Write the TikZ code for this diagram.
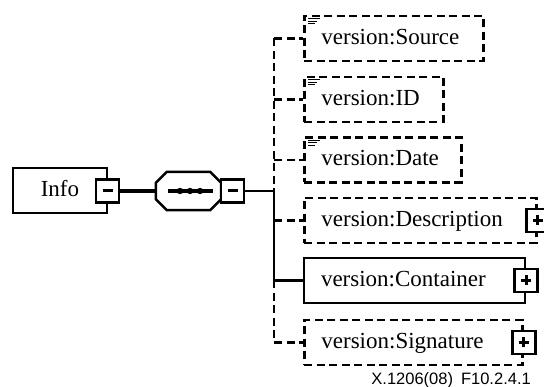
\documentclass[tikz,border=0pt]{standalone}
\usepackage{fontspec}
\setmainfont{Liberation Serif}
\newfontfamily\capfont{Liberation Sans}
\begin{document}
\begin{tikzpicture}[x=1pt,y=-1pt,
  boxfont/.style={font=\fontsize{23}{27}\selectfont},
  elem/.style={draw, boxfont, line width=2pt, minimum height=45pt,
    inner xsep=17pt, inner ysep=0pt, text height=17pt, text depth=5pt,
    align=left, anchor=west},
  optelem/.style={elem, line width=2.8pt, dash pattern=on 8pt off 4.5pt},
  toggle/.style={draw, fill=white, line width=2.6pt, minimum width=23pt,
    minimum height=23pt, inner sep=0pt},
  conn/.style={line width=2.5pt},
  optconn/.style={conn, line width=2.7pt, dash pattern=on 8pt off 4.5pt},
  sign/.style={line width=3pt},
  doc/.style={line width=1pt},
]
\useasboundingbox (0,0) rectangle (544,387);

% root element
\node[elem, text width=60pt, align=center, anchor=center] (info) at (60,190.5) {Info};
\node[toggle] (infotog) at (107.5,191) {};
\draw[sign] ([xshift=-5pt]infotog.center) -- ([xshift=5pt]infotog.center);

% sequence compositor
\node[minimum width=65pt, minimum height=38pt, inner sep=0pt] (seq) at (188.5,191) {};
\draw[line width=2.5pt, fill=white]
  ([xshift=11pt]seq.north west) -- ([xshift=-11pt]seq.north east)
  -- ([yshift=-11pt]seq.north east) -- ([yshift=11pt]seq.south east)
  -- ([xshift=-11pt]seq.south east) -- ([xshift=11pt]seq.south west)
  -- ([yshift=11pt]seq.south west) -- ([yshift=-11pt]seq.north west) -- cycle;
\draw[line width=4pt] ([xshift=-21pt]seq.center) -- ([xshift=24pt]seq.center);
\foreach \dx in {-8.5,1.5,11.5}
  \fill ([xshift=\dx pt]seq.center) circle (3.2pt);
\node[toggle] (seqtog) at (232.5,191) {};
\draw[sign] ([xshift=-5pt]seqtog.center) -- ([xshift=5pt]seqtog.center);

\draw[line width=4pt] (infotog.east) -- (seq.west);
\coordinate (junc) at (274,191);
\draw[conn] (seqtog.east) -- (junc);

% child elements
\node[optelem, text width=145pt] (src)  at (303,38.5)  {version:Source};
\node[optelem, text width=105pt] (vid)  at (303,99.5)  {version:ID};
\node[optelem, text width=123pt] (date) at (303,160)   {version:Date};
\node[optelem, text width=198pt] (desc) at (303,220.5) {version:Description};
\node[elem,    text width=187pt] (cont) at (303,280.5) {version:Container};
\node[optelem, text width=184pt] (sig)  at (303,342.5) {version:Signature};

% documentation marks
\foreach \n in {src,vid,date}{
  \draw[doc] ([xshift=5pt,yshift=-4pt]\n.north west) -- ++(12pt,0);
  \draw[doc] ([xshift=5pt,yshift=-6.5pt]\n.north west) -- ++(9pt,0);
  \draw[doc] ([xshift=5pt,yshift=-9pt]\n.north west) -- ++(7pt,0);
}

% expand buttons
\foreach \n in {desc,cont,sig}{
  \node[toggle] (\n tog) at (\n.east) {};
  \draw[sign] ([xshift=-5pt]\n tog.center) -- ([xshift=5pt]\n tog.center);
  \draw[sign] ([yshift=-5pt]\n tog.center) -- ([yshift=5pt]\n tog.center);
}

% connectors
\draw[optconn] (src.west -| junc) -- (junc);
\draw[conn] (junc) -- (cont.west -| junc);
\draw[optconn] (cont.west -| junc) -- (sig.west -| junc);
\foreach \n in {src,vid,date,desc,sig}
  \draw[optconn] (\n.west -| junc) -- (\n.west);
\draw[conn] (cont.west -| junc) -- (cont.west);

% figure label
\node[anchor=base east, inner sep=0pt, font=\capfont\fontsize{16.5}{18}\selectfont]
  (cap) at (531,385) {X.1206(08)\hspace{8pt}F10.2.4.1};
\end{tikzpicture}
\end{document}
